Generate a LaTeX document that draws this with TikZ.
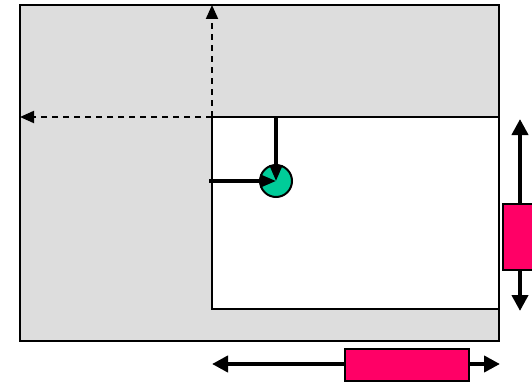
\documentclass[tikz,border=0pt]{standalone}
\usetikzlibrary{arrows.meta,calc}
\definecolor{panelgray}{HTML}{DDDDDD}
\definecolor{tealdot}{HTML}{00CC99}
\definecolor{hotpink}{HTML}{FF0066}
\def\pu{0.75pt}
\tikzset{
  frame/.style={draw=black, line width=1.5pt, inner sep=0pt, outer sep=0pt},
  guide/.style={draw=black, line width=1.5pt, dash pattern=on 4.5pt off 3.75pt,
                -{Triangle[length=10.5pt,width=9pt]}},
  pointer/.style={draw=black, line width=2.3pt, -{Triangle[length=12pt,width=9.5pt]}},
  travel/.style={draw=black, line width=3pt,
                 {Triangle[length=12pt,width=12pt]}-{Triangle[length=12pt,width=12pt]}},
  slider/.style={frame, fill=hotpink, line width=1.2pt},
}
\begin{document}
\begin{tikzpicture}[x=0.75pt, y=-0.75pt]
\useasboundingbox (0,0) rectangle (532,385);

% whole area and visible window
\node[frame, fill=panelgray, minimum width=479*\pu, minimum height=336*\pu] (outer) at (259.5,173) {};
\node[frame, fill=white, minimum width=287*\pu, minimum height=192*\pu] (inner) at (355.5,213) {};

% scroll offsets of the window
\draw[guide] (inner.north west) -- (inner.north west |- outer.north);
\draw[guide] (inner.north west) -- (outer.west |- inner.north west);

% point inside the window
\node[draw=black, line width=1.5pt, fill=tealdot, circle, minimum size=32*\pu, inner sep=0pt] (dot) at (276,181) {};
\coordinate (hstart) at (209,181);
\draw[pointer] (inner.north -| dot) -- (dot.center);
\draw[pointer] (hstart) -- (dot.center);

% vertical scrollbar
\coordinate (vtop) at (520,119);
\coordinate (vbot) at (520,311);
\draw[travel] (vtop) -- (vbot);
\node[slider, minimum width=34*\pu, minimum height=66*\pu] (vthumb) at (520,237) {};

% horizontal scrollbar
\coordinate (hleft) at (212,364);
\coordinate (hright) at (500,364);
\draw[travel] (hleft) -- (hright);
\node[slider, minimum width=124*\pu, minimum height=32*\pu] (hthumb) at (407,365) {};
\end{tikzpicture}
\end{document}
